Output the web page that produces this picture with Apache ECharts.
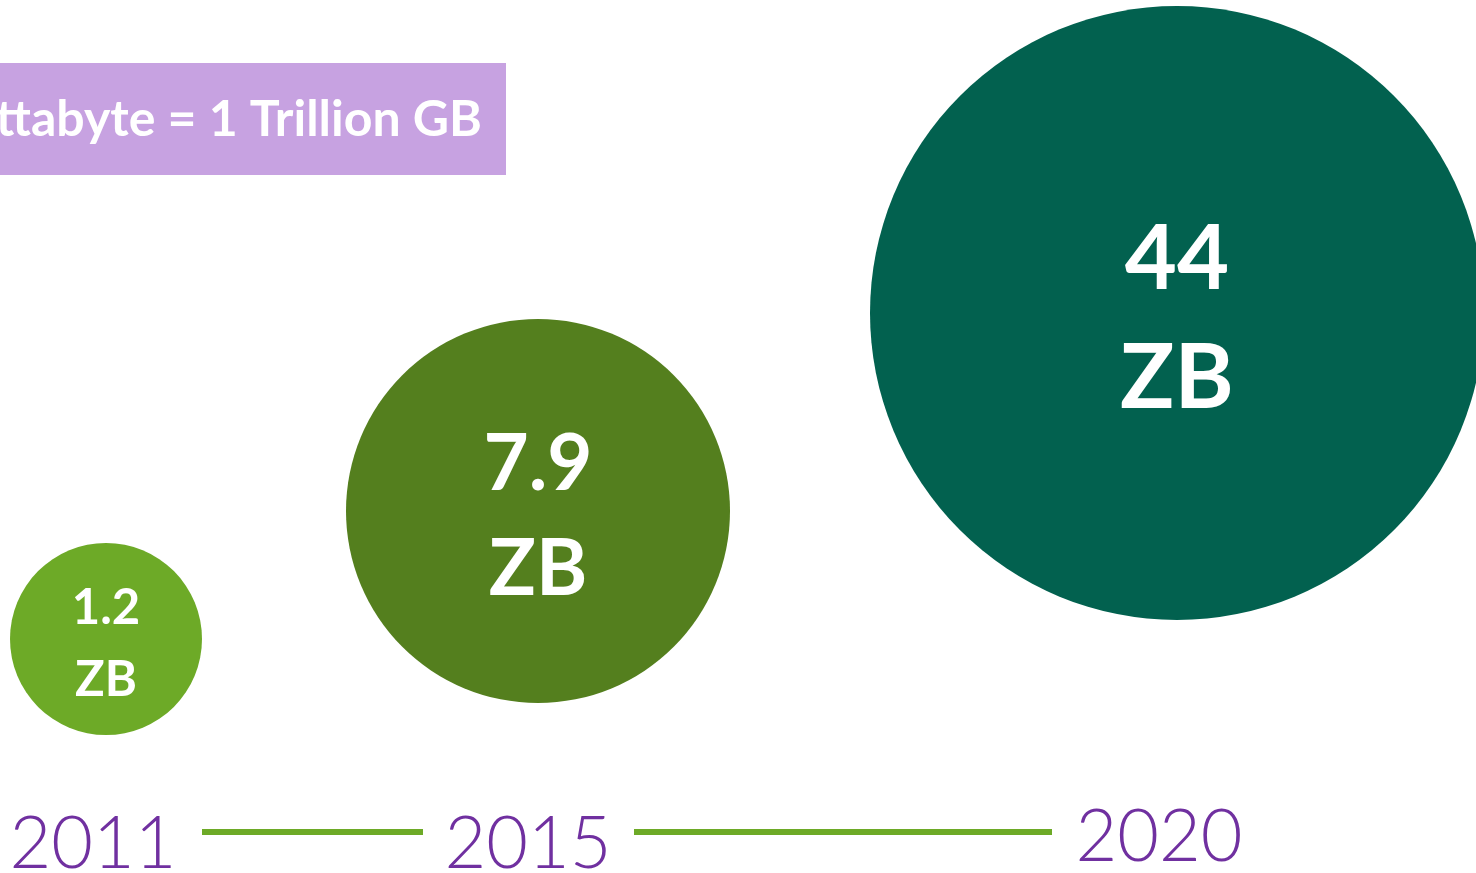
<!DOCTYPE html>
<html>
<head>
    <meta charset="utf-8" />
    <title>Data growth</title>
    <script src="https://cdn.jsdelivr.net/npm/echarts@6/dist/echarts.min.js"></script>
    <style>
        html, body { margin: 0; padding: 0; background: #ffffff; }
        #main { width: 1476px; height: 873px; }
    </style>
</head>
<body>
<div id="main"></div>

<script type="text/javascript">
    // data
    var years = ['2011', '2015', '2020'];
    var volumes = [1.2, 7.9, 44];
    var unit = 'ZB';
    var note = '1 Zettabyte = 1 Trillion GB';

    // look of each bubble (layout only)
    var bubbleColors = ['#6daa27', '#547f1e', '#02614f'];
    var bubbleBox = [
        { left: 10, top: 543, size: 192, valueFont: 49, lineHeight: 72, labelMargin: 110, labelShift: 26, textDrop: 5 },
        { left: 346, top: 319, size: 384, valueFont: 78, lineHeight: 105, labelMargin: 142, labelShift: 20, textDrop: 6 },
        { left: 870, top: 6, size: 614, valueFont: 90, lineHeight: 119, labelMargin: 218, labelShift: 36, textDrop: 6 }
    ];

    var myChart = echarts.init(document.getElementById('main'));

    var grids = [], xAxes = [], yAxes = [], series = [];
    years.forEach(function (year, i) {
        var box = bubbleBox[i];
        grids.push({
            left: box.left, top: box.top, width: box.size, height: box.size,
            containLabel: false,
            outerBoundsMode: 'none'
        });
        xAxes.push({
            type: 'category',
            gridIndex: i,
            data: [year],
            axisLine: { show: false },
            axisTick: { show: false },
            axisLabel: {
                margin: box.labelMargin,
                verticalAlign: 'middle',
                padding: [0, box.labelShift, 0, 0],
                color: '#7030a0',
                fontFamily: 'Lato',
                fontWeight: 300,
                fontSize: 72
            }
        });
        yAxes.push({
            type: 'value',
            gridIndex: i,
            show: false,
            min: 0,
            max: function (e) { return e.max * 2; }
        });
        series.push({
            type: 'scatter',
            xAxisIndex: i,
            yAxisIndex: i,
            symbol: 'circle',
            symbolSize: box.size,
            silent: true,
            itemStyle: { color: bubbleColors[i], opacity: 1 },
            label: {
                show: true,
                position: 'inside',
                offset: [0, box.textDrop],
                formatter: function (p) {
                    return '{v|' + p.value + '}\n{v|' + unit + '}';
                },
                rich: {
                    v: {
                        color: '#ffffff',
                        fontFamily: 'Lato',
                        fontWeight: 'bold',
                        fontSize: box.valueFont,
                        lineHeight: box.lineHeight
                    }
                }
            },
            data: [volumes[i]]
        });
    });

    var option = {
        backgroundColor: '#ffffff',
        animation: false,
        grid: grids,
        xAxis: xAxes,
        yAxis: yAxes,
        series: series,
        graphic: [
            {
                type: 'rect',
                shape: { x: 0, y: 63, width: 506, height: 112 },
                style: { fill: '#c7a2e1' },
                z: 1
            },
            {
                type: 'text',
                x: 482,
                y: 120,
                style: {
                    text: note,
                    fill: '#ffffff',
                    font: 'bold 50px Lato',
                    align: 'right',
                    verticalAlign: 'middle'
                },
                z: 2
            },
            {
                type: 'line',
                shape: { x1: 202, y1: 832, x2: 423, y2: 832 },
                style: { stroke: '#6daa27', lineWidth: 6 }
            },
            {
                type: 'line',
                shape: { x1: 634, y1: 832, x2: 1052, y2: 832 },
                style: { stroke: '#6daa27', lineWidth: 6 }
            }
        ]
    };

    myChart.setOption(option);
</script>
</body>
</html>
